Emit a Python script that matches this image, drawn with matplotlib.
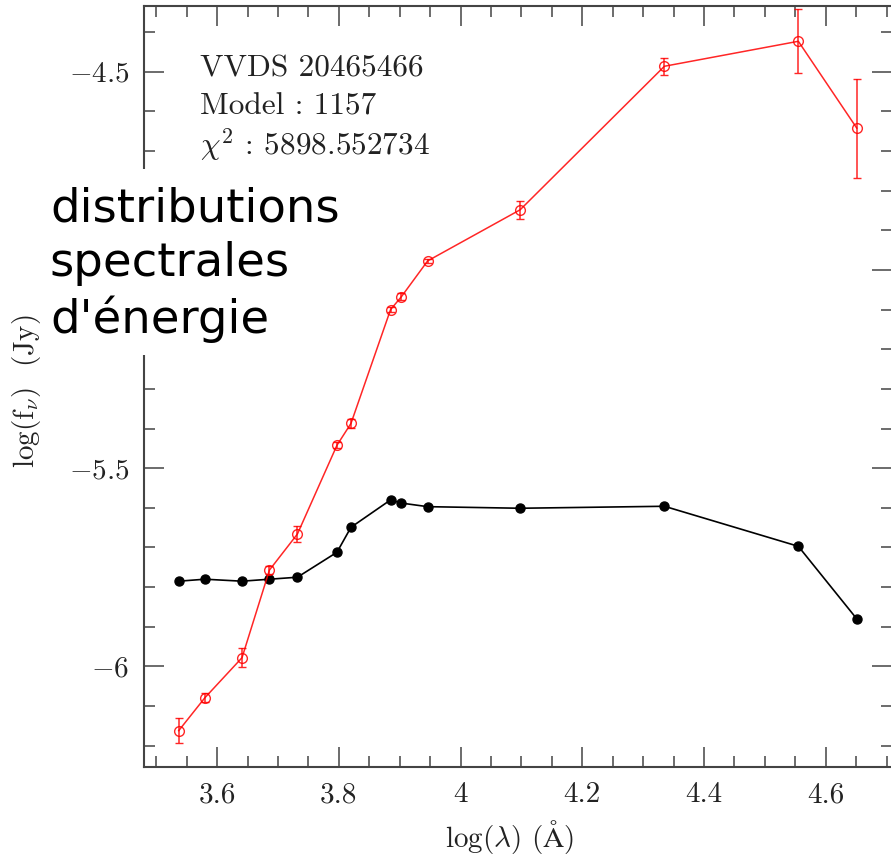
import numpy as np
import matplotlib
matplotlib.use('Agg')
import matplotlib.pyplot as plt
from matplotlib.ticker import MultipleLocator
from matplotlib.patches import Rectangle

plt.rcParams['font.family'] = ['cmr10', 'DejaVu Serif']
plt.rcParams['mathtext.fontset'] = 'cm'
plt.rcParams['axes.formatter.use_mathtext'] = True

# observed photometry (red) and best-fit model (black)
log_lambda = [3.537, 3.580, 3.641, 3.686, 3.732, 3.797, 3.820,
              3.885, 3.903, 3.946, 4.098, 4.335, 4.555, 4.651]
obs_flux = [-6.162, -6.079, -5.978, -5.757, -5.666, -5.442, -5.387,
            -5.100, -5.067, -4.977, -4.848, -4.486, -4.423, -4.642]
obs_err = [0.032, 0.011, 0.024, 0.010, 0.019, 0.008, 0.012,
           0.007, 0.009, 0.005, 0.023, 0.022, 0.081, 0.125]
model_flux = [-5.785, -5.780, -5.785, -5.780, -5.775, -5.712, -5.649,
              -5.580, -5.588, -5.597, -5.601, -5.596, -5.697, -5.880]

info_lines = ['VVDS 20465466', 'Model : 1157', r'$\chi^2$ : 5898.552734']
overlay_text = "distributions\nspectrales\nd'énergie"


def y_fmt(v, p):
    v = round(v, 2)
    if v == -5:
        # this label sits under the white caption patch in the original
        return ''
    return ('$-$%g' % abs(v)) if v < 0 else '%g' % v


fig = plt.figure(figsize=(8.91, 8.58), dpi=100)
ax = fig.add_axes([0.162, 0.1064, 0.8392, 0.8866])

ax.plot(log_lambda, model_flux, color='black', lw=1.2, marker='o',
        markersize=6.5, zorder=3)
ax.errorbar(log_lambda, obs_flux, yerr=obs_err, color='red', lw=1.1,
            marker='o', markersize=7, mfc='none', mec='red', mew=1.0,
            elinewidth=1.1, capsize=3, capthick=1.1, alpha=0.85, zorder=4)

ax.set_xlim(3.4805, 4.709)
ax.set_ylim(-6.253, -4.334)

ax.xaxis.set_major_locator(MultipleLocator(0.2))
ax.xaxis.set_minor_locator(MultipleLocator(0.05))
ax.yaxis.set_major_locator(MultipleLocator(0.5))
ax.yaxis.set_minor_locator(MultipleLocator(0.1))
ax.xaxis.set_major_formatter(plt.FuncFormatter(lambda v, p: '%g' % round(v, 2)))
ax.yaxis.set_major_formatter(plt.FuncFormatter(y_fmt))

ax.tick_params(which='both', direction='in', top=True, right=True,
               color='#444444', labelsize=21, pad=11, labelcolor='#222222')
ax.tick_params(which='major', length=14.5, width=1.1)
ax.tick_params(which='minor', length=8, width=1.1)
for sp in ax.spines.values():
    sp.set_color('#444444')
    sp.set_linewidth(1.5)

ax.set_xlabel(r'log($\lambda$) ($\mathrm{\AA}$)', fontsize=21, color='#222222')
ax.set_ylabel(r'log(f$_\nu$)  (Jy)', fontsize=21, color='#222222')
ax.xaxis.set_label_coords(0.489, -0.068)
ax.yaxis.set_label_coords(-0.1355, 0.494)

# info block at top left of the panel
for i, line in enumerate(info_lines):
    ax.text(0.074, 0.918 - i * 0.0505, line, transform=ax.transAxes,
            fontsize=22.5, color='#222222', va='center')

# white patch with the overlaid caption
fig.add_artist(Rectangle((0.0505, 0.5862), 0.342, 0.2168,
                         transform=fig.transFigure, facecolor='white',
                         edgecolor='none', zorder=10))
fig.text(0.056, 0.783, overlay_text, fontsize=33.5, family='DejaVu Sans',
         color='black', va='top', ha='left', linespacing=1.27, zorder=11)

fig.savefig('out.png', dpi=100)
